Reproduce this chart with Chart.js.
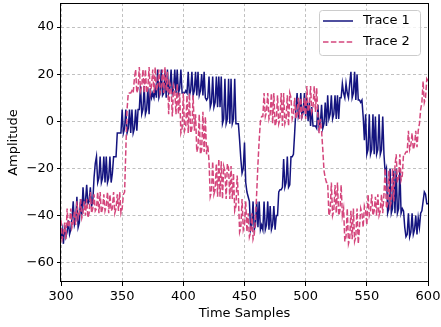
<!DOCTYPE html>
<html>
<head>
<meta charset="utf-8">
<script src="https://cdn.jsdelivr.net/npm/chart.js@4.4.0/dist/chart.umd.min.js"></script>
<style>
  html, body { margin: 0; padding: 0; background: #fff; }
  canvas { display: block; }
</style>
</head>
<body>
<canvas id="myChart" width="441" height="327"></canvas>
<script>
const startSample = 300;
const xTicks = [300, 350, 400, 450, 500, 550, 600];
const yTicks = [-60, -40, -20, 0, 20, 40];
const seriesNames = ['Trace 1', 'Trace 2'];

// one value per time sample, 300..600
const trace1 = [
  -50, -46, -52,
  -44, -49, -47, -42, -48, -46, -41,
  -34, -44, -42, -32, -45, -43, -33, -40,
  -28, -36, -34, -27, -35, -34, -28, -36, -34,
  -24, -18,
  -15, -26, -24, -15, -26, -24, -15, -26, -15, -26, -24, -15, -26, -22, -15,
  -15, -15,
  -5, -5, -5, -5,
  5, -5, -3, 5, -5, -3, 5, -5, 5, -5, -3, 5, -4,
  5, 5,
  15, 3, 5, 15, 3, 5, 14, 3, 14,
  10, 12, 10, 14, 10,
  22, 10, 12, 22, 11, 12, 21, 10, 22,
  12, 14, 22, 12, 14, 22, 12, 22, 12, 14, 22, 12,
  12, 12, 13, 12,
  21, 11, 13, 21, 11, 13, 21, 11, 21, 11, 13, 20, 11, 21,
  10, 9, 10,
  19, 6, 8, 19, 6, 8, 19, 6, 19, 6, 19,
  -1, 1, 18, -1, 1, 18, -1, 18, -1, 1, 18, -1,
  -1, -1,
  -8, -16, -22, -20, -9, -26, -30, -32,
  -34, -46, -44, -34, -46, -44, -34, -45, -34, -46, -44, -46, -34, -46, -44, -34, -46, -36,
  -46, -44, -36, -46, -40, -40,
  -30, -29, -29, -28,
  -16, -28, -26, -15, -28, -27,
  -15, -15, -14,
  -5, 5, 12,
  2, 4, 12, 2, 4, 12, 2,
  10, 0, 8, -2, 6,
  -2, -2, -2, -3,
  7, -3, -1, 7, -3, -1, 8, -2,
  11, 1, 3, 11, 1, 3, 11, 1, 11, 1, 10,
  10, 16, 12, 10, 16, 12, 10, 16,
  21, 10, 12, 21, 9, 20,
  9, 9, 8, 9,
  2, -8,
  3, -14, -12, 3, -14, -12, 3, -14, 2, -14, -12, 3, -14, -12, 2,
  -14, -22,
  -20, -39, -37, -20, -39, -37, -21, -39, -20, -39, -37, -20, -39, -37, -38,
  -45, -49, -48,
  -39, -49, -47, -39, -48, -46, -40, -48, -41, -45, -39,
  -38, -34, -30, -31, -35, -35
];

const trace2 = [
  -42, -50, -48, -43, -50,
  -37, -45, -43, -37, -45, -43, -38, -44,
  -34, -41, -39, -33, -41, -39, -34, -40, -33, -41, -39,
  -30, -39, -37, -31, -38, -37, -30, -39, -30, -39, -37, -31, -38, -36,
  -30, -39, -31, -38, -37, -30, -39, -37, -31, -38, -30, -39, -37, -31,
  -30, -12, 5, 12, 12,
  12, 13, 12, 18,
  22, 12, 14, 23, 13, 15, 22, 12, 22, 12, 14, 23, 12, 15,
  22, 12, 23, 13, 15, 22, 12, 14, 22, 12, 23, 13, 21,
  3, 16, 14, 2, 15, 13, 3, 16, 3,
  12, -5, -3, 12, -4, -2, 11, -5, 12, -5, -3, 11, -4,
  3, -13, -11, 3, -14, -12, 4, -13, 2, -14, -10,
  -17, -32, -30, -17, -31, -29, -18, -32, -16, -32, -17,
  -33, -19, -21, -33, -18, -20, -33, -19, -33,
  -22, -38, -36, -23, -32, -47, -45, -33, -46, -44, -34, -47,
  -39, -49, -47, -39, -50, -48, -41,
  -30, -18, -8, 0, 2, 2,
  12, 2, 4, 12, 1, 3, 12, -1, 12, -2, 0, 11, -1, 1, 12, -2, 12, -1, 1, 11, -2, 12,
  10, 1, 3, 10, 1, 3, 10, 1, 10, 2, 4, 10, 1,
  15, 4, 6, 15, 4, 6, 15, 4, 14,
  2, -5, 1, -4,
  -12, -21, -24, -26,
  -26, -40, -38, -26, -40, -38, -27, -39, -26, -40, -38, -27, -40,
  -37, -51, -49, -37, -52, -50, -38, -50, -37, -51, -49, -37, -52,
  -45, -37, -39, -45, -36, -38, -44,
  -31, -40, -38, -31, -40, -38, -32, -40, -31, -40, -38, -31, -39, -31,
  -20, -37, -35, -21, -36, -34, -20, -34, -19,
  -14, -26, -24, -14, -25, -23, -14,
  -14, -13, -13,
  -4, -12, -10, -5, -12, -10, -4, -11, -4,
  -1, 5, 8,
  17, 8, 10, 18, 17
];

const navy = '#14147f';
const pink = '#d4467c';
const font13 = { family: 'DejaVu Sans', size: 13 };

function toPoints(vals) {
  return vals.map((v, i) => ({ x: startSample + i, y: v }));
}

// box round the plot and the legend in the upper right
const frameAndLegend = {
  id: 'frameAndLegend',
  afterDraw(chart) {
    const { ctx, chartArea: a } = chart;
    ctx.save();
    ctx.strokeStyle = '#000';
    ctx.lineWidth = 1;
    ctx.strokeRect(Math.round(a.left) - 0.5, Math.round(a.top) + 0.5,
      Math.round(a.right - a.left) + 1, Math.round(a.bottom - a.top) - 1);

    const bx = a.right - 109, by = a.top + 7, bw = 101, bh = 45;
    ctx.beginPath();
    ctx.roundRect(bx + 0.5, by + 0.5, bw, bh, 3);
    ctx.fillStyle = 'rgba(255,255,255,0.8)';
    ctx.fill();
    ctx.strokeStyle = '#cccccc';
    ctx.stroke();

    const rows = [
      { name: seriesNames[0], color: navy, dash: [] },
      { name: seriesNames[1], color: pink, dash: [5.5, 2.4] }
    ];
    rows.forEach((r, i) => {
      const y = by + 11 + i * 21;
      ctx.beginPath();
      ctx.setLineDash(r.dash);
      ctx.strokeStyle = r.color;
      ctx.lineWidth = 1.5;
      ctx.moveTo(bx + 4, y);
      ctx.lineTo(bx + 34, y);
      ctx.stroke();
      ctx.setLineDash([]);
      ctx.fillStyle = '#000';
      ctx.font = '13px "DejaVu Sans"';
      ctx.textBaseline = 'middle';
      ctx.fillText(r.name, bx + 44, y);
    });
    ctx.restore();
  }
};

const ctx = document.getElementById('myChart');
const myChart = new Chart(ctx, {
  type: 'line',
  data: {
    datasets: [{
      label: seriesNames[0],
      data: toPoints(trace1),
      borderColor: navy,
      borderWidth: 1.5,
      pointRadius: 0,
      tension: 0,
      fill: false,
      order: 2
    }, {
      label: seriesNames[1],
      data: toPoints(trace2),
      borderColor: pink,
      borderWidth: 1.5,
      borderDash: [5.5, 2.4],
      pointRadius: 0,
      tension: 0,
      fill: false,
      order: 1
    }]
  },
  options: {
    responsive: false,
    animation: false,
    layout: { padding: { top: 3, right: 13, left: 0, bottom: 0 } },
    plugins: {
      legend: { display: false },
      tooltip: { enabled: false }
    },
    scales: {
      x: {
        type: 'linear',
        min: 300,
        max: 600,
        afterBuildTicks: s => { s.ticks = xTicks.map(v => ({ value: v })); },
        afterFit: s => { s.height = 45; s.paddingLeft = 0; s.paddingRight = 0; },
        grid: { color: '#b0b0b0', lineWidth: 0.8, tickLength: 4, tickColor: '#000', tickWidth: 1, tickBorderDash: [] },
        border: { display: false, dash: [3, 2.5] },
        ticks: { color: '#000', font: font13, padding: 3, maxRotation: 0, autoSkip: false },
        title: { display: true, text: 'Time Samples', color: '#000', font: font13, padding: { top: 0, bottom: 6 } }
      },
      y: {
        min: -68.2,
        max: 50.2,
        afterBuildTicks: s => { s.ticks = yTicks.map(v => ({ value: v })); },
        afterFit: s => { s.width = 61; s.paddingTop = 0; s.paddingBottom = 0; },
        grid: { color: '#b0b0b0', lineWidth: 0.8, tickLength: 4, tickColor: '#000', tickWidth: 1, tickBorderDash: [] },
        border: { display: false, dash: [3, 2.5] },
        ticks: {
          color: '#000', font: font13, padding: 3, autoSkip: false,
          callback: v => String(v).replace('-', '\u2212')
        },
        title: { display: true, text: 'Amplitude', color: '#000', font: font13, padding: { top: 6, bottom: 0 } }
      }
    }
  },
  plugins: [frameAndLegend]
});
</script>
</body>
</html>
